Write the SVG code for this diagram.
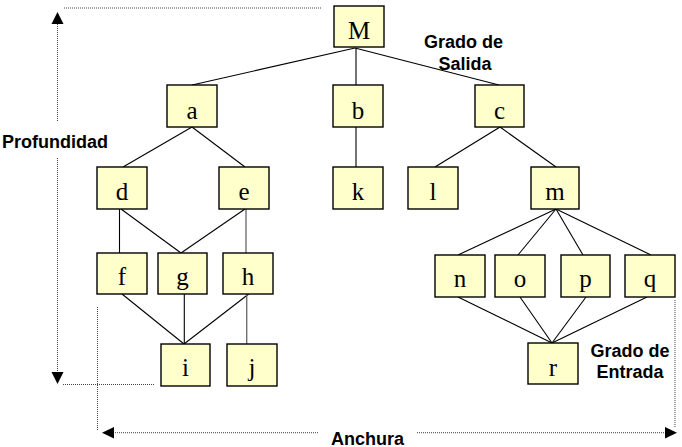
<svg xmlns="http://www.w3.org/2000/svg" width="682" height="447" viewBox="0 0 682 447">
<style>
.box{fill:#FFFFCC;stroke:#000;stroke-width:1.4}
.lbl{font-family:"Liberation Serif","Times New Roman",serif;font-size:25px;fill:#000;text-anchor:middle}
.ann{font-family:"Liberation Sans",Arial,sans-serif;font-size:18px;font-weight:bold;fill:#000}
.e{stroke:#000;stroke-width:1.1;fill:none}
.eg{stroke:#707070;stroke-width:1.4;fill:none}
.dot{stroke:#444;stroke-width:1;stroke-dasharray:1 1;fill:none}
.ah{fill:#000}
</style>
<rect width="682" height="447" fill="#fff"/>
<g id="connectors">
<line class="e" x1="355" y1="48" x2="192" y2="85"/>
<line class="e" x1="356" y1="48" x2="356" y2="85"/>
<line class="e" x1="355" y1="48" x2="499" y2="85"/>
<line class="e" x1="192" y1="127" x2="123" y2="167"/>
<line class="e" x1="192" y1="127" x2="245" y2="167"/>
<line class="e" x1="356" y1="127" x2="356" y2="167"/>
<line class="e" x1="500" y1="127" x2="435" y2="167"/>
<line class="e" x1="500" y1="127" x2="556" y2="167"/>
<line class="e" x1="119.5" y1="209" x2="119.5" y2="253"/>
<line class="e" x1="121" y1="209" x2="181" y2="253"/>
<line class="e" x1="245" y1="209" x2="181" y2="253"/>
<line class="eg" x1="246" y1="209" x2="246" y2="253"/>
<line class="e" x1="122" y1="294" x2="184" y2="344"/>
<line class="e" x1="184.3" y1="294" x2="184.3" y2="344"/>
<line class="e" x1="248.7" y1="294" x2="184" y2="344"/>
<line class="eg" x1="246.7" y1="294" x2="246.7" y2="344"/>
<line class="e" x1="556" y1="209" x2="458" y2="255"/>
<line class="e" x1="556" y1="209" x2="518" y2="255"/>
<line class="e" x1="556" y1="209" x2="583" y2="255"/>
<line class="e" x1="556" y1="209" x2="651" y2="255"/>
<line class="e" x1="458" y1="297" x2="552" y2="343"/>
<line class="e" x1="520" y1="297" x2="552" y2="343"/>
<line class="e" x1="586" y1="297" x2="552" y2="343"/>
<line class="e" x1="647" y1="297" x2="552" y2="343"/>
</g>
<g id="dimensions">
<line class="dot" x1="64" y1="8" x2="322" y2="8"/>
<line class="dot" x1="57.5" y1="24" x2="57.5" y2="122"/>
<line class="dot" x1="57.5" y1="158" x2="57.5" y2="372"/>
<polygon class="ah" points="57.5,12 51.5,24 63.5,24"/>
<polygon class="ah" points="57.5,384 51.5,372 63.5,372"/>
<line class="dot" x1="63" y1="384.5" x2="155" y2="384.5"/>
<line class="dot" x1="97.5" y1="307" x2="97.5" y2="431"/>
<line class="dot" x1="113" y1="432.7" x2="318" y2="432.7"/>
<polygon class="ah" points="102,432.7 114,427 114,438.4"/>
<line class="dot" x1="417" y1="432.7" x2="665" y2="432.7"/>
<polygon class="ah" points="677,432.7 665,427 665,438.4"/>
<line class="dot" x1="675" y1="300" x2="675" y2="427"/>
<text class="ann" x="2" y="148">Profundidad</text>
<text class="ann" x="367.5" y="444.5" text-anchor="middle">Anchura</text>
<text class="ann" text-anchor="middle" x="463.5" y="48">Grado de</text>
<text class="ann" text-anchor="middle" x="465" y="69.5">Salida</text>
<text class="ann" text-anchor="middle" x="630" y="357">Grado de</text>
<text class="ann" text-anchor="middle" x="630" y="378">Entrada</text>
</g>
<g id="node-M"><rect class="box" x="334" y="6" width="50" height="41"/><text class="lbl" x="359" y="39">M</text></g>
<g id="node-a"><rect class="box" x="167" y="85" width="50" height="42"/><text class="lbl" x="192" y="118.5">a</text></g>
<g id="node-b"><rect class="box" x="333" y="85" width="50" height="42"/><text class="lbl" x="358" y="118.5">b</text></g>
<g id="node-c"><rect class="box" x="475" y="85" width="49" height="42"/><text class="lbl" x="499.5" y="118.5">c</text></g>
<g id="node-d"><rect class="box" x="97" y="167" width="50" height="42"/><text class="lbl" x="122" y="200">d</text></g>
<g id="node-e"><rect class="box" x="219" y="167" width="50" height="42"/><text class="lbl" x="244" y="200">e</text></g>
<g id="node-k"><rect class="box" x="333" y="167" width="50" height="42"/><text class="lbl" x="358" y="200">k</text></g>
<g id="node-l"><rect class="box" x="408" y="167" width="50" height="42"/><text class="lbl" x="433" y="200">l</text></g>
<g id="node-m"><rect class="box" x="531" y="167" width="48" height="42"/><text class="lbl" x="555" y="200">m</text></g>
<g id="node-f"><rect class="box" x="97" y="253" width="50" height="41"/><text class="lbl" x="122" y="285">f</text></g>
<g id="node-g"><rect class="box" x="158" y="253" width="49" height="41"/><text class="lbl" x="182.5" y="285">g</text></g>
<g id="node-h"><rect class="box" x="223" y="253" width="50" height="41"/><text class="lbl" x="248" y="285">h</text></g>
<g id="node-n"><rect class="box" x="435" y="255" width="50" height="42"/><text class="lbl" x="460" y="287">n</text></g>
<g id="node-o"><rect class="box" x="495" y="255" width="50" height="42"/><text class="lbl" x="520" y="287">o</text></g>
<g id="node-p"><rect class="box" x="561" y="255" width="49" height="42"/><text class="lbl" x="585.5" y="287">p</text></g>
<g id="node-q"><rect class="box" x="625" y="255" width="50" height="42"/><text class="lbl" x="650" y="287">q</text></g>
<g id="node-i"><rect class="box" x="161" y="344" width="49" height="42"/><text class="lbl" x="185.5" y="376">i</text></g>
<g id="node-j"><rect class="box" x="227" y="344" width="50" height="42"/><text class="lbl" x="252" y="376">j</text></g>
<g id="node-r"><rect class="box" x="528" y="343" width="50" height="41"/><text class="lbl" x="553" y="376">r</text></g>
</svg>
